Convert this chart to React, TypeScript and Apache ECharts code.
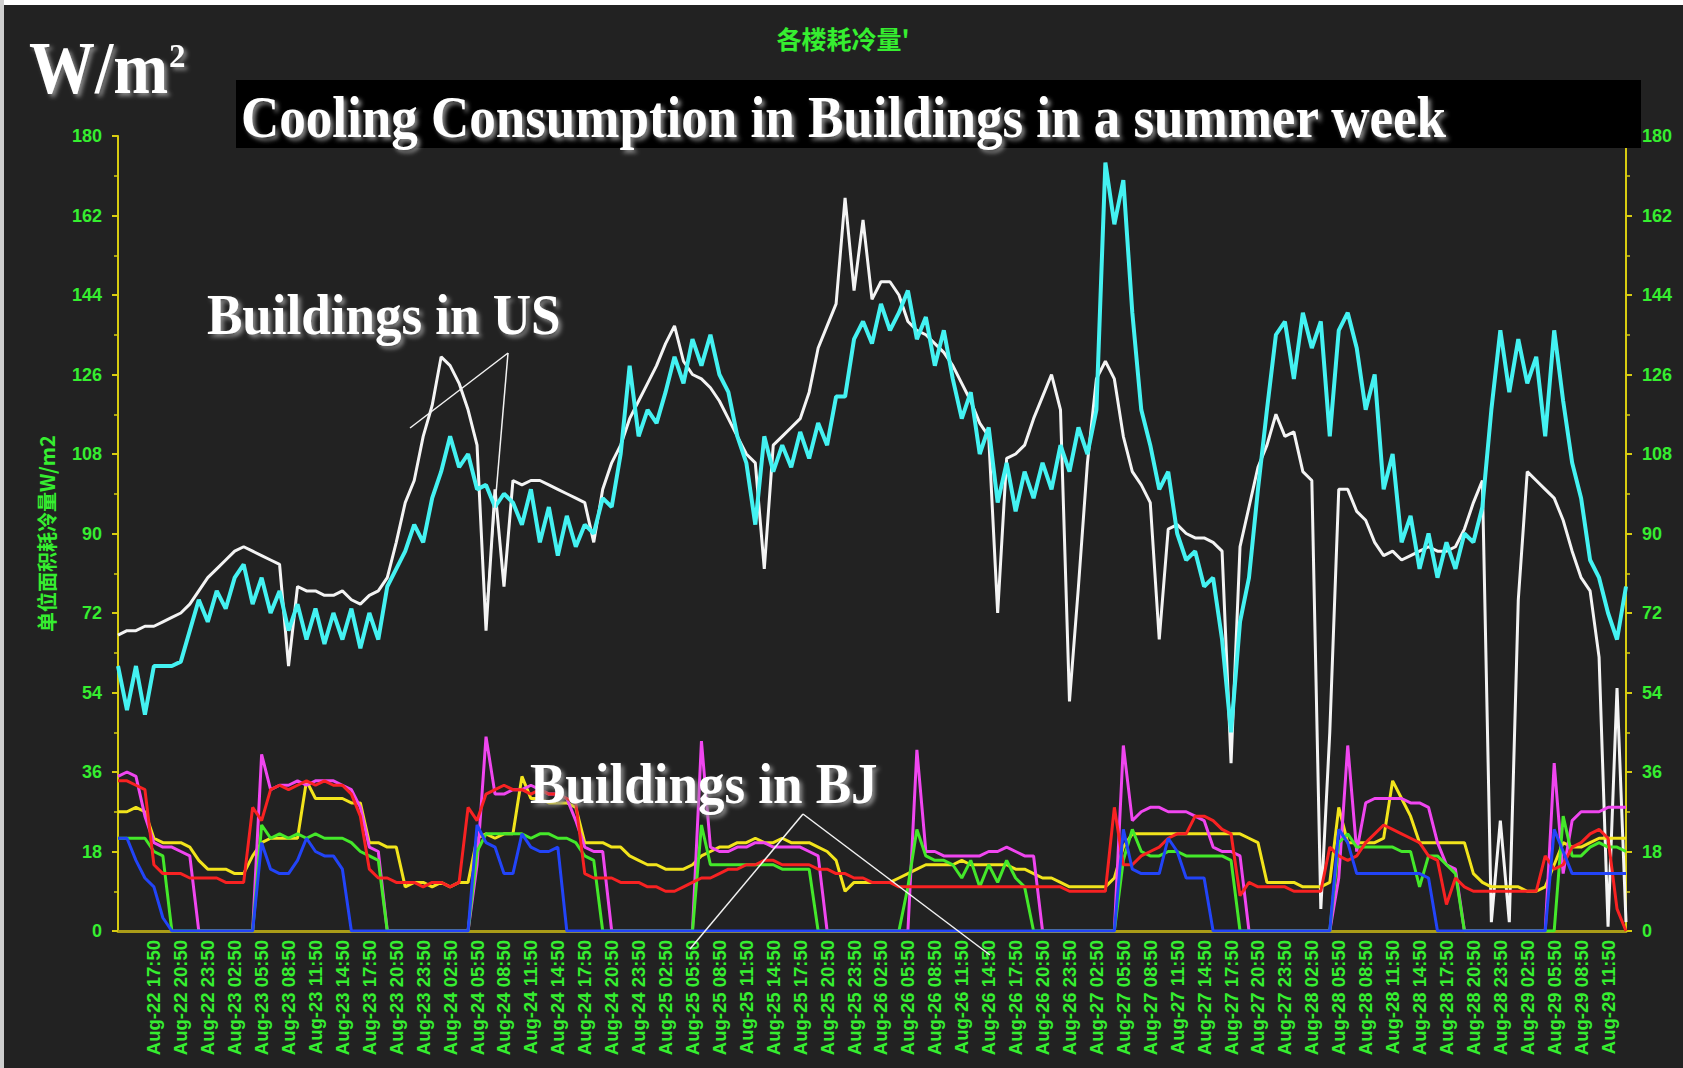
import React, { useEffect, useRef } from "react";
import * as echarts from "echarts";

// Hourly readings, first point Aug-22 13:50, last point Aug-29 13:50 (169 points).
const START_DAY = 22;
const START_HOUR = 13;
const POINT_COUNT = 169;

// Times of day that carry an axis label.
const TICK_TIMES = ["02:50", "05:50", "08:50", "11:50", "14:50", "17:50", "20:50", "23:50"];

// US building A (white)
const US_A = [
  67, 68, 68, 69, 69, 70, 71, 72, 74, 77,
  80, 82, 84, 86, 87, 86, 85, 84, 83, 60,
  78, 77, 77, 76, 76, 77, 75, 74, 76, 77,
  80, 88, 97, 102, 112, 119, 130, 128, 124, 118,
  110, 68, 100, 78, 102, 101, 102, 102, 101, 100,
  99, 98, 97, 88, 100, 106, 110, 116, 120, 124,
  128, 133, 137, 129, 126, 125, 123, 120, 116, 112,
  108, 106, 82, 110, 112, 114, 116, 122, 132, 137,
  142, 166, 145, 161, 143, 147, 147, 144, 138, 136,
  135, 133, 131, 128, 124, 120, 115, 112, 72, 107,
  108, 110, 116, 121, 126, 118, 52, 78, 106, 125,
  129, 125, 112, 104, 101, 97, 66, 91, 92, 90,
  89, 89, 88, 86, 38, 87, 96, 105, 110, 117,
  112, 113, 104, 102, 5, 45, 100, 100, 95, 93,
  88, 85, 86, 84, 85, 86, 87, 86, 86, 87,
  91, 97, 102, 2, 25, 2, 75, 104, 102, 100,
  98, 93, 86, 80, 77, 62, 1, 55, 2,
];

// US building B (cyan)
const US_B = [
  60, 50, 60, 49, 60, 60, 60, 61, 68, 75,
  70, 77, 73, 80, 83, 74, 80, 72, 77, 68,
  74, 66, 73, 65, 72, 66, 73, 64, 72, 66,
  78, 82, 86, 92, 88, 98, 104, 112, 105, 108,
  100, 101, 96, 99, 97, 92, 100, 88, 96, 85,
  94, 87, 92, 90, 98, 96, 108, 128, 112, 118,
  115, 122, 130, 124, 134, 128, 135, 126, 122, 112,
  106, 92, 112, 104, 110, 105, 113, 107, 115, 110,
  121, 121, 134, 138, 133, 142, 136, 140, 145, 134,
  139, 128, 136, 125, 116, 122, 108, 114, 97, 106,
  95, 104, 98, 106, 100, 110, 104, 114, 108, 118,
  174, 160, 170, 140, 118, 110, 100, 104, 90, 84,
  86, 78, 80, 66, 45, 70, 80, 100, 118, 135,
  138, 125, 140, 132, 138, 112, 136, 140, 132, 118,
  126, 100, 108, 88, 94, 82, 90, 80, 88, 82,
  90, 88, 96, 118, 136, 122, 134, 124, 130, 112,
  136, 120, 106, 98, 84, 80, 72, 66, 78,
];

// Beijing buildings
const BJ_MAGENTA = [
  35, 36, 35, 26, 20, 19, 19, 18, 17, 0,
  0, 0, 0, 0, 0, 0, 40, 32, 33, 33,
  34, 33, 34, 34, 34, 33, 32, 28, 19, 18,
  0, 0, 0, 0, 0, 0, 0, 0, 0, 0,
  15, 44, 31, 31, 32, 32, 33, 32, 31, 31,
  30, 25, 19, 18, 18, 0, 0, 0, 0, 0,
  0, 0, 0, 0, 0, 43, 19, 18, 18, 19,
  19, 20, 20, 19, 19, 19, 19, 18, 17, 0,
  0, 0, 0, 0, 0, 0, 0, 0, 0, 41,
  18, 18, 17, 17, 17, 17, 17, 18, 18, 19,
  18, 17, 17, 0, 0, 0, 0, 0, 0, 0,
  0, 0, 42, 25, 27, 28, 28, 27, 27, 27,
  26, 25, 19, 18, 18, 17, 0, 0, 0, 0,
  0, 0, 0, 0, 0, 0, 12, 42, 18, 29,
  30, 30, 30, 30, 29, 29, 28, 20, 15, 14,
  0, 0, 0, 0, 0, 0, 0, 0, 0, 0,
  38, 13, 25, 27, 27, 27, 28, 28, 28,
];

const BJ_RED = [
  34, 34, 33, 32, 15, 13, 13, 13, 12, 12,
  12, 12, 11, 11, 11, 28, 25, 32, 33, 32,
  33, 34, 33, 34, 33, 33, 31, 26, 14, 12,
  12, 11, 11, 11, 10, 11, 11, 10, 11, 28,
  25, 31, 32, 33, 32, 32, 31, 32, 31, 31,
  30, 29, 13, 12, 12, 12, 11, 11, 11, 10,
  10, 9, 9, 10, 11, 12, 12, 13, 14, 14,
  15, 15, 16, 16, 15, 15, 15, 15, 14, 14,
  13, 13, 12, 12, 11, 11, 11, 10, 10, 10,
  10, 10, 10, 10, 10, 10, 10, 10, 10, 10,
  10, 10, 10, 10, 10, 10, 9, 9, 9, 9,
  9, 28, 15, 15, 17, 18, 19, 21, 22, 22,
  26, 26, 25, 23, 22, 8, 11, 10, 10, 10,
  10, 9, 9, 9, 9, 19, 17, 16, 17, 20,
  22, 24, 23, 22, 21, 20, 17, 16, 6, 12,
  10, 9, 9, 9, 9, 9, 9, 9, 9, 17,
  14, 15, 19, 20, 22, 23, 21, 5, 0,
];

const BJ_YELLOW = [
  27, 27, 28, 27, 21, 20, 20, 20, 19, 16,
  14, 14, 14, 13, 13, 17, 20, 21, 21, 21,
  21, 34, 30, 30, 30, 30, 29, 29, 20, 20,
  19, 19, 10, 11, 11, 10, 11, 10, 11, 11,
  21, 22, 21, 22, 22, 35, 30, 30, 29, 29,
  29, 28, 20, 20, 20, 19, 19, 17, 16, 15,
  15, 14, 14, 14, 15, 17, 18, 19, 19, 20,
  20, 21, 20, 20, 21, 20, 20, 20, 19, 18,
  16, 9, 11, 11, 11, 11, 11, 12, 13, 14,
  15, 15, 15, 15, 16, 15, 15, 15, 15, 15,
  14, 14, 13, 12, 12, 11, 10, 10, 10, 10,
  10, 12, 19, 22, 22, 22, 22, 22, 22, 22,
  22, 22, 22, 22, 22, 22, 21, 20, 11, 11,
  11, 11, 10, 10, 10, 11, 28, 20, 20, 20,
  20, 21, 34, 30, 26, 20, 20, 20, 20, 20,
  20, 13, 11, 10, 10, 10, 10, 9, 9, 10,
  15, 20, 19, 19, 20, 21, 21, 21, 21,
];

const BJ_GREEN = [
  21, 21, 21, 21, 18, 17, 0, 0, 0, 0,
  0, 0, 0, 0, 0, 0, 24, 21, 22, 21,
  22, 21, 22, 21, 21, 21, 20, 18, 17, 16,
  0, 0, 0, 0, 0, 0, 0, 0, 0, 0,
  18, 22, 22, 22, 22, 22, 21, 22, 22, 21,
  21, 20, 17, 16, 0, 0, 0, 0, 0, 0,
  0, 0, 0, 0, 0, 24, 15, 15, 15, 15,
  15, 15, 15, 15, 14, 14, 14, 14, 0, 0,
  0, 0, 0, 0, 0, 0, 0, 0, 10, 23,
  17, 16, 16, 15, 12, 16, 10, 15, 11, 16,
  12, 10, 0, 0, 0, 0, 0, 0, 0, 0,
  0, 0, 16, 23, 18, 17, 17, 18, 18, 17,
  17, 17, 17, 17, 16, 0, 0, 0, 0, 0,
  0, 0, 0, 0, 0, 0, 20, 22, 19, 19,
  19, 19, 19, 18, 18, 10, 17, 17, 15, 13,
  0, 0, 0, 0, 0, 0, 0, 0, 0, 0,
  0, 26, 17, 17, 19, 20, 19, 19, 18,
];

const BJ_BLUE = [
  21, 21, 16, 12, 10, 3, 0, 0, 0, 0,
  0, 0, 0, 0, 0, 0, 20, 14, 13, 13,
  16, 21, 18, 17, 17, 14, 0, 0, 0, 0,
  0, 0, 0, 0, 0, 0, 0, 0, 0, 0,
  24, 20, 19, 13, 13, 22, 19, 18, 18, 19,
  0, 0, 0, 0, 0, 0, 0, 0, 0, 0,
  0, 0, 0, 0, 0, 0, 0, 0, 0, 0,
  0, 0, 0, 0, 0, 0, 0, 0, 0, 0,
  0, 0, 0, 0, 0, 0, 0, 0, 0, 0,
  0, 0, 0, 0, 0, 0, 0, 0, 0, 0,
  0, 0, 0, 0, 0, 0, 0, 0, 0, 0,
  0, 0, 23, 14, 13, 13, 13, 21, 18, 12,
  12, 12, 0, 0, 0, 0, 0, 0, 0, 0,
  0, 0, 0, 0, 0, 0, 23, 20, 13, 13,
  13, 13, 13, 13, 13, 13, 12, 0, 0, 0,
  0, 0, 0, 0, 0, 0, 0, 0, 0, 0,
  23, 18, 13, 13, 13, 13, 13, 13, 13,
];

const pad2 = (n: number) => (n < 10 ? "0" + n : String(n));

// "Aug-DD HH:50" category names, one per hour
const HOURS: string[] = [];
for (let i = 0; i < POINT_COUNT; i++) {
  const t = START_HOUR + i;
  HOURS.push(`Aug-${START_DAY + Math.floor(t / 24)} ${pad2(t % 24)}:50`);
}
const TICK_SET = new Set(
  HOURS.filter((h, i) => i >= 4 && TICK_TIMES.includes(h.slice(7)))
);

const GREEN = "#36ee30";
const AXIS_YELLOW = "#d8cc10";
const SERIF = '"Liberation Serif", "Times New Roman", serif';

const shadow = {
  textShadowColor: "rgba(140,140,140,0.95)",
  textShadowBlur: 4,
  textShadowOffsetX: 3,
  textShadowOffsetY: 3,
};

function valueAxis(position: "left" | "right", withName: boolean) {
  return {
    type: "value",
    position,
    min: 0,
    max: 180,
    interval: 18,
    name: withName ? "单位面积耗冷量W/m2" : "",
    nameLocation: "middle",
    nameGap: 62,
    nameTextStyle: {
      color: GREEN,
      fontSize: 20,
      fontWeight: "bold",
      fontFamily: '"Noto Sans CJK SC", sans-serif',
    },
    axisLine: { show: true, lineStyle: { color: AXIS_YELLOW, width: 2 } },
    axisTick: { show: true, length: 6, lineStyle: { color: AXIS_YELLOW, width: 2 } },
    minorTick: { show: true, splitNumber: 2, length: 4, lineStyle: { color: AXIS_YELLOW, width: 1.5 } },
    splitLine: { show: false },
    axisLabel: {
      color: GREEN,
      fontSize: 18,
      fontWeight: "bold",
      fontFamily: '"Liberation Sans", Arial, sans-serif',
      margin: 16,
    },
  };
}

function lineSeries(name: string, data: number[], color: string, width: number) {
  return {
    name,
    type: "line",
    data,
    showSymbol: false,
    symbol: "none",
    yAxisIndex: 0,
    lineStyle: { color, width },
    itemStyle: { color },
  };
}

export default function App() {
  const ref = useRef<HTMLDivElement>(null);

  useEffect(() => {
    if (!ref.current) return;
    const chart = echarts.init(ref.current, undefined, { renderer: "svg" });
    chart.setOption({
      animation: false,
      backgroundColor: "#222222",
      grid: { left: 118, right: 57, top: 136, bottom: 137 },
      xAxis: {
        type: "category",
        data: HOURS,
        boundaryGap: false,
        axisLine: { lineStyle: { color: "#aa9c18", width: 3 } },
        axisTick: { show: false },
        axisLabel: {
          interval: (_idx: number, value: string) => TICK_SET.has(value),
          rotate: 90,
          color: GREEN,
          fontSize: 18.5,
          fontWeight: "bold",
          fontFamily: '"Liberation Sans", Arial, sans-serif',
          margin: 9,
        },
      },
      yAxis: [valueAxis("left", true), valueAxis("right", false)],
      series: [
        lineSeries("US-A", US_A, "#f4f4f4", 3),
        lineSeries("US-B", US_B, "#44f2f2", 4),
        lineSeries("BJ-5", BJ_YELLOW, "#f2e41c", 3),
        lineSeries("BJ-3", BJ_MAGENTA, "#f046f0", 3),
        lineSeries("BJ-4", BJ_GREEN, "#44e82a", 3),
        lineSeries("BJ-2", BJ_RED, "#f82222", 3),
        lineSeries("BJ-1", BJ_BLUE, "#2244f8", 3),
      ],
      graphic: [
        // frame edges
        { type: "rect", z: 200, shape: { x: 0, y: 0, width: 1683, height: 5 }, style: { fill: "#ffffff" } },
        { type: "rect", z: 200, shape: { x: 0, y: 0, width: 4, height: 1068 }, style: { fill: "#cfcfcf" } },
        // subtitle
        {
          type: "text", x: 843, y: 38, z: 100,
          style: {
            text: "各楼耗冷量'", fill: GREEN, align: "center", verticalAlign: "middle",
            font: 'bold 25px "Noto Sans CJK SC", sans-serif',
          },
        },
        // unit
        {
          type: "text", x: 29, y: 68, scaleY: 1.12, z: 100,
          style: { text: "W/m", fill: "#ffffff", align: "left", verticalAlign: "middle", font: `bold 66px ${SERIF}`, ...shadow },
        },
        {
          type: "text", x: 169, y: 56, z: 100,
          style: { text: "2", fill: "#ffffff", align: "left", verticalAlign: "middle", font: `bold 33px ${SERIF}`, ...shadow },
        },
        // title bar
        { type: "rect", z: 100, shape: { x: 236, y: 80, width: 1405, height: 68 }, style: { fill: "#000000" } },
        {
          type: "text", x: 241, y: 117, scaleY: 1.13, z: 101,
          style: {
            text: "Cooling Consumption in Buildings in a summer week", fill: "#ffffff",
            align: "left", verticalAlign: "middle", font: `bold 53px ${SERIF}`, ...shadow,
          },
        },
        // annotations
        {
          type: "text", x: 207, y: 315, scaleY: 1.09, z: 100,
          style: { text: "Buildings in US", fill: "#ffffff", align: "left", verticalAlign: "middle", font: `bold 53px ${SERIF}`, ...shadow },
        },
        { type: "line", z: 100, shape: { x1: 410, y1: 428, x2: 508, y2: 353 }, style: { stroke: "#f2f2f2", lineWidth: 1.5 } },
        { type: "line", z: 100, shape: { x1: 508, y1: 353, x2: 487, y2: 600 }, style: { stroke: "#f2f2f2", lineWidth: 1.5 } },
        {
          type: "text", x: 530, y: 784, scaleY: 1.09, z: 100,
          style: { text: "Buildings in BJ", fill: "#ffffff", align: "left", verticalAlign: "middle", font: `bold 53px ${SERIF}`, ...shadow },
        },
        { type: "line", z: 100, shape: { x1: 690, y1: 949, x2: 803, y2: 814 }, style: { stroke: "#f2f2f2", lineWidth: 1.5 } },
        { type: "line", z: 100, shape: { x1: 803, y1: 814, x2: 990, y2: 955 }, style: { stroke: "#f2f2f2", lineWidth: 1.5 } },
      ],
    });
    return () => chart.dispose();
  }, []);

  return (
    <div
      ref={ref}
      style={{ position: "absolute", left: 0, top: 0, width: 1683, height: 1068 }}
    />
  );
}
